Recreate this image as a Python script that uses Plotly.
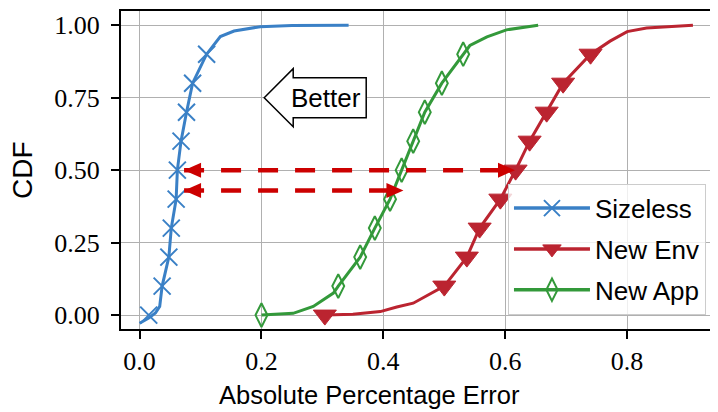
import plotly.graph_objects as go

# ---------------- data ----------------
cdf_levels = [0.0, 0.1, 0.2, 0.3, 0.4, 0.5, 0.6, 0.7, 0.8, 0.9]

sizeless_line_x = [0.000, 0.015, 0.026, 0.033, 0.037, 0.048, 0.052, 0.060, 0.062, 0.068,
                   0.077, 0.087, 0.110, 0.1325, 0.155, 0.198, 0.250, 0.343]
sizeless_line_y = [-0.028, -0.010, 0.007, 0.030, 0.100, 0.200, 0.300, 0.400, 0.500, 0.600,
                   0.700, 0.800, 0.900, 0.961, 0.980, 0.995, 0.999, 1.000]
sizeless_mark_x = [0.015, 0.037, 0.048, 0.052, 0.060, 0.062, 0.068, 0.077, 0.087, 0.110]

newenv_line_x = [0.304, 0.350, 0.395, 0.422, 0.449, 0.475, 0.500, 0.537, 0.558, 0.592,
                 0.617, 0.640, 0.668, 0.695, 0.740, 0.772, 0.800, 0.832, 0.908]
newenv_line_y = [0.000, 0.003, 0.012, 0.028, 0.041, 0.070, 0.100, 0.200, 0.300, 0.400,
                 0.500, 0.600, 0.700, 0.800, 0.900, 0.945, 0.978, 0.990, 1.000]
newenv_mark_x = [0.304, 0.500, 0.537, 0.558, 0.592, 0.617, 0.640, 0.668, 0.695, 0.740]

newapp_line_x = [0.200, 0.252, 0.285, 0.318, 0.326, 0.362, 0.386, 0.411, 0.430, 0.449,
                 0.468, 0.496, 0.531, 0.542, 0.570, 0.602, 0.654]
newapp_line_y = [0.000, 0.006, 0.030, 0.076, 0.100, 0.200, 0.300, 0.400, 0.500, 0.600,
                 0.700, 0.800, 0.900, 0.930, 0.960, 0.984, 1.000]
newapp_mark_x = [0.200, 0.326, 0.362, 0.386, 0.411, 0.430, 0.449, 0.468, 0.496, 0.531]

series_names = ["Sizeless", "New Env", "New App"]

# double-headed comparison arrows: (y, left tip x, right tip x)
arrow_y = [0.50, 0.43]
arrow_x0 = [0.073, 0.073]
arrow_x1 = [0.616, 0.433]

better_text = "Better"
better_tip = (0.2045, 0.75)

x_title = "Absolute Percentage Error"
y_title = "CDF"
x_ticks = [0.0, 0.2, 0.4, 0.6, 0.8]
x_ticktext = ["0.0", "0.2", "0.4", "0.6", "0.8"]
y_ticks = [0.0, 0.25, 0.5, 0.75, 1.0]
y_ticktext = ["0.00", "0.25", "0.50", "0.75", "1.00"]

# ---------------- style ----------------
BLUE = "#3a80c6"
RED = "#bb2430"
GREEN = "#33993a"
ARROW = "#cc0000"
SANS = "Liberation Sans, Arial, sans-serif"
SERIF = "Liberation Serif, Times New Roman, serif"

fig = go.Figure()

specs = [
    (sizeless_line_x, sizeless_line_y, sizeless_mark_x, BLUE,
     dict(symbol="x-thin", size=17, line=dict(width=2, color=BLUE), color=BLUE)),
    (newenv_line_x, newenv_line_y, newenv_mark_x, RED,
     dict(symbol="triangle-down", size=20, color=RED, line=dict(width=1, color=RED))),
    (newapp_line_x, newapp_line_y, newapp_mark_x, GREEN,
     dict(symbol="diamond-tall-open", size=17, color=GREEN, line=dict(width=2, color=GREEN))),
]

for (lx, ly, mx, col, mk), name in zip(specs, series_names):
    fig.add_trace(go.Scatter(x=lx, y=ly, mode="lines", line=dict(color=col, width=3),
                             showlegend=False, hoverinfo="skip"))
    fig.add_trace(go.Scatter(x=mx, y=cdf_levels, mode="markers", marker=mk,
                             showlegend=False, hoverinfo="skip"))

# legend entries
for (lx, ly, mx, col, mk), name in zip(specs, series_names):
    fig.add_trace(go.Scatter(x=[None], y=[None], mode="lines+markers", name=name,
                             line=dict(color=col, width=3.5), marker=mk,
                             legendgroup=name))

shapes = []
# dashed arrow shafts + heads
for y, x0, x1 in zip(arrow_y, arrow_x0, arrow_x1):
    shapes.append(dict(type="line", xref="x", yref="y", x0=x0, x1=x1, y0=y, y1=y,
                       line=dict(color=ARROW, width=4.5, dash="20px,17px"), layer="above"))
    shapes.append(dict(type="path", xref="x", yref="y", xsizemode="pixel", ysizemode="pixel",
                       xanchor=x0, yanchor=y, path="M0,0 L17,7.5 L17,-7.5 Z",
                       fillcolor=ARROW, line=dict(width=0), layer="above"))
    shapes.append(dict(type="path", xref="x", yref="y", xsizemode="pixel", ysizemode="pixel",
                       xanchor=x1, yanchor=y, path="M0,0 L-17,7.5 L-17,-7.5 Z",
                       fillcolor=ARROW, line=dict(width=0), layer="above"))

# "Better" block arrow
shapes.append(dict(type="path", xref="x", yref="y", xsizemode="pixel", ysizemode="pixel",
                   xanchor=better_tip[0], yanchor=better_tip[1],
                   path="M0,0 L29,29 L29,20 L102,20 L102,-20 L29,-20 L29,-29 Z",
                   fillcolor="white", line=dict(color="black", width=1.5), layer="above"))

annotations = [
    dict(x=better_tip[0], y=better_tip[1], xref="x", yref="y", text=better_text,
         showarrow=False, xshift=62, yshift=0,
         font=dict(family=SANS, size=26, color="black")),
    # axis titles
    dict(x=0.4175, y=0, xref="paper", yref="paper", text=x_title, showarrow=False,
         xanchor="center", yanchor="middle", yshift=-66,
         font=dict(family=SANS, size=25.5, color="black")),
    dict(x=0, y=0.5, xref="paper", yref="paper", text=y_title, showarrow=False,
         textangle=-90, xanchor="center", yanchor="middle", xshift=-99,
         font=dict(family=SANS, size=28, color="black")),
]

# the page body adds an 8px offset; margins compensate so the plot area
# lands at x 121..717, y 11..329 in the window
fig.update_layout(
    width=718, height=412,
    margin=dict(l=113, r=9, t=3, b=91, autoexpand=False),
    paper_bgcolor="white", plot_bgcolor="white",
    shapes=shapes, annotations=annotations,
    legend=dict(x=0.9815, y=0.045, xanchor="right", yanchor="bottom",
                bgcolor="rgba(255,255,255,0.8)", bordercolor="#cccccc", borderwidth=1,
                font=dict(family=SANS, size=26, color="black"),
                tracegroupgap=4, itemwidth=76),
    font=dict(family=SANS, color="black"),
)

fig.update_xaxes(
    range=[-0.0305, 0.9475], tickvals=x_ticks, ticktext=x_ticktext, automargin=False,
    showgrid=True, gridcolor="#b0b0b0", gridwidth=1.2, zeroline=False,
    showline=True, linecolor="black", linewidth=2, mirror=True,
    ticks="outside", ticklen=8, tickwidth=1.5, tickcolor="black",
    tickfont=dict(family=SERIF, size=26, color="black"),
)
fig.update_yaxes(
    range=[-0.048, 1.049], tickvals=y_ticks, ticktext=y_ticktext, automargin=False,
    showgrid=True, gridcolor="#b0b0b0", gridwidth=1.2, zeroline=False,
    showline=True, linecolor="black", linewidth=2, mirror=True,
    ticks="outside", ticklen=8, tickwidth=1.5, tickcolor="black", ticklabelstandoff=6,
    tickfont=dict(family=SERIF, size=26, color="black"),
)

fig.write_html("out.html")
